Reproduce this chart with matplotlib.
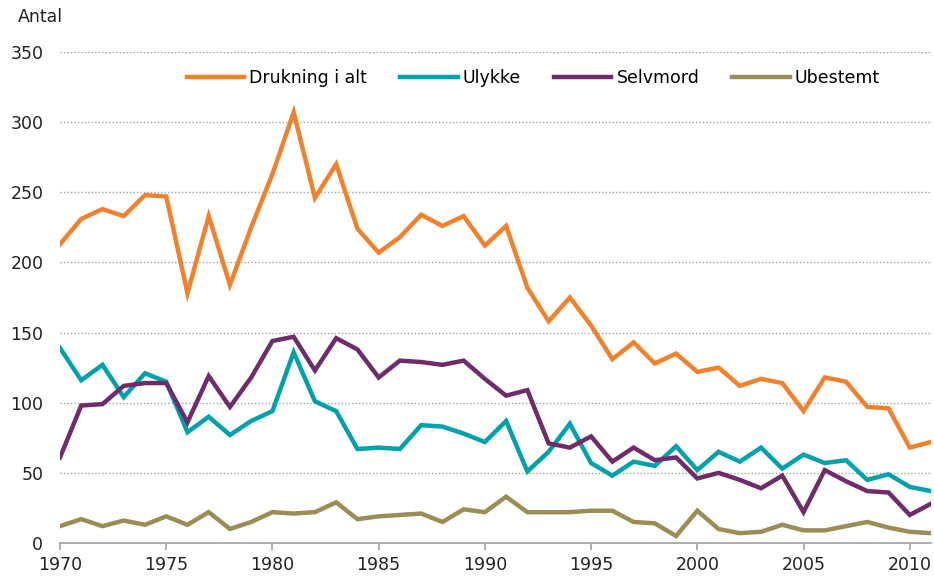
import numpy as np
import matplotlib
matplotlib.use("Agg")
import matplotlib.pyplot as plt

years = list(range(1970, 2012))

drukning = [213, 231, 238, 233, 248, 247, 178, 233, 184, 225,
            263, 307, 246, 270, 224, 207, 218, 234, 226, 233,
            212, 226, 182, 158, 175, 155, 131, 143, 128, 135,
            122, 125, 112, 117, 114, 94, 118, 115, 97, 96,
            68, 72]
ulykke = [139, 116, 127, 104, 121, 115, 79, 90, 77, 87,
          94, 136, 101, 94, 67, 68, 67, 84, 83, 78,
          72, 87, 51, 65, 85, 57, 48, 58, 55, 69,
          52, 65, 58, 68, 53, 63, 57, 59, 45, 49,
          40, 37]
selvmord = [61, 98, 99, 112, 114, 114, 86, 119, 97, 118,
            144, 147, 123, 146, 138, 118, 130, 129, 127, 130,
            117, 105, 109, 71, 68, 76, 58, 68, 59, 61,
            46, 50, 45, 39, 48, 22, 52, 44, 37, 36,
            20, 28]
ubestemt = [12, 17, 12, 16, 13, 19, 13, 22, 10, 15,
            22, 21, 22, 29, 17, 19, 20, 21, 15, 24,
            22, 33, 22, 22, 22, 23, 23, 15, 14, 5,
            23, 10, 7, 8, 13, 9, 9, 12, 15, 11,
            8, 7]

series = [("Drukning i alt", drukning, "#F0812D"),
          ("Ulykke", ulykke, "#00A1AB"),
          ("Selvmord", selvmord, "#6E2C6B"),
          ("Ubestemt", ubestemt, "#9A8D55")]

plt.rcParams['font.family'] = ['DejaVu Sans']
fig = plt.figure(figsize=(9.34, 5.78), dpi=100)
ax = fig.add_axes([60 / 934, 35 / 578, 871 / 934, 491 / 578])

for name, vals, col in series:
    ax.plot(years, vals, color=col, lw=3.2, label=name, solid_joinstyle="miter")

ax.set_xlim(1970, 2011)
ax.set_ylim(0, 350)
ax.set_yticks(range(0, 351, 50))
ax.set_xticks(range(1970, 2011, 5))
# dotted grid, no line at zero
for v in range(50, 351, 50):
    ax.axhline(v, color="#a0a0a0", lw=1.0, ls=(0, (1, 1.5)), zorder=0)

for s in ["top", "right", "left"]:
    ax.spines[s].set_visible(False)
ax.spines["bottom"].set_color("#a0a0a0")
ax.spines["bottom"].set_linewidth(1.2)
ax.tick_params(axis="y", length=0, pad=12, labelsize=12.5, colors="#222222")
ax.tick_params(axis="x", length=5, width=1.2, color="#a0a0a0", pad=4,
               labelsize=12.5, labelcolor="#222222")

fig.text(18 / 934, 1 - 17 / 578, "Antal", fontsize=12.5, color="#222222",
         va="center", ha="left")

ax.legend(loc="center left", bbox_to_anchor=(120 / 871, (543 - 78) / 491),
          ncol=4, frameon=False, fontsize=12.5, handlelength=3.3,
          handletextpad=0.3, columnspacing=1.9, borderaxespad=0)

fig.savefig("out.png", dpi=100)
